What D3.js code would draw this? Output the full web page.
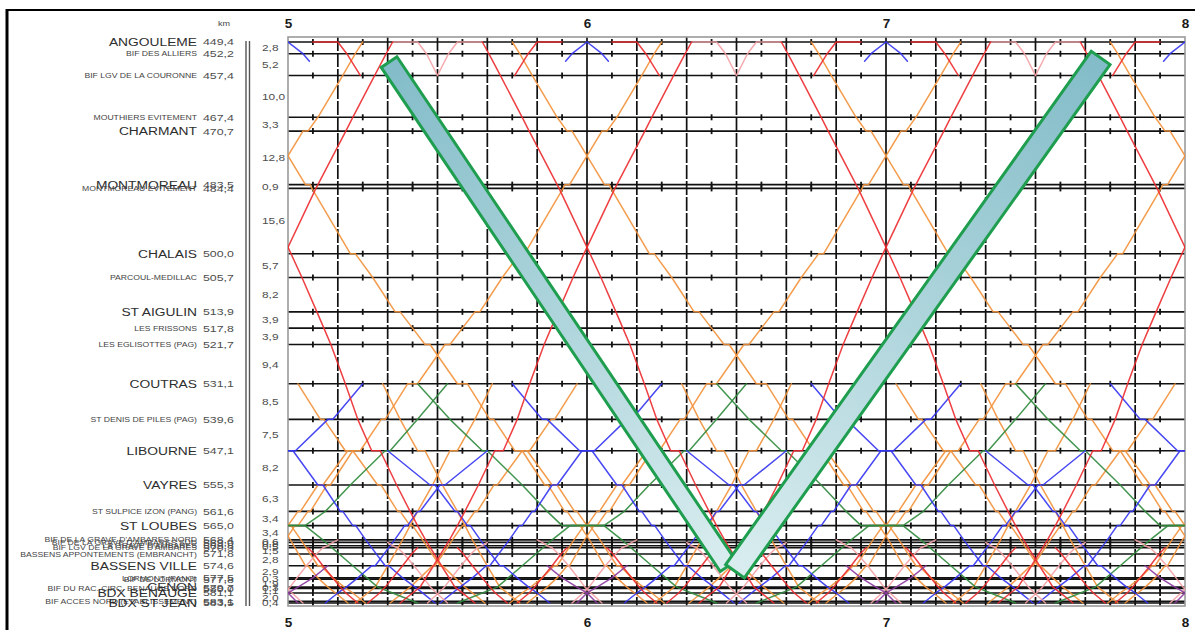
<!DOCTYPE html>
<html>
<head>
<meta charset="utf-8">
<script src="https://cdn.jsdelivr.net/npm/d3@7"></script>
<style>
  html, body { margin: 0; padding: 0; background: #fff; }
  svg { display: block; }
</style>
</head>
<body>
<svg id="chart" width="1195" height="630"></svg>
<script>
// ---------------------------------------------------------------------------
// Line Angoulême – Bordeaux : stations and kilometre points
// ---------------------------------------------------------------------------
const stationNames = [
  "ANGOULEME", "BIF DES ALLIERS", "BIF LGV DE LA COURONNE", "MOUTHIERS EVITEMENT",
  "CHARMANT", "MONTMOREAU", "MONTMOREAU EVITEMENT", "CHALAIS", "PARCOUL-MEDILLAC",
  "ST AIGULIN", "LES FRISSONS", "LES EGLISOTTES (PAG)", "COUTRAS",
  "ST DENIS DE PILES (PAG)", "LIBOURNE", "VAYRES", "ST SULPICE IZON (PANG)",
  "ST LOUBES", "BIF DE LA GRAVE D'AMBARES NORD", "BIF DE LA GRAVE D'AMBARES SUD",
  "LA GRAVE D'AMBARES", "BIF LGV DE LA GRAVE D'AMBARES",
  "BASSENS APPONTEMENTS (EMBRANCHT)", "BASSENS VILLE", "LORMONT (PANG)",
  "BIF DE LORMONT", "CENON", "BIF DU RAC. CIRC. BENAUGE NORD", "BDX BENAUGE",
  "BIF ACCES NORD (ETABLISSEMENT)", "BDX ST JEAN"
];
const stationKm = [
  449.4, 452.2, 457.4, 467.4, 470.7, 483.5, 484.4, 500.0, 505.7, 513.9, 517.8,
  521.7, 531.1, 539.6, 547.1, 555.3, 561.6, 565.0, 568.4, 569.0, 569.8, 570.3,
  571.8, 574.6, 577.5, 577.8, 579.7, 580.0, 581.1, 583.1, 583.5
];
const stationMajor = [
  true, false, false, false, true, true, false, true, false, true, false,
  false, true, false, true, true, false, true, false, false, false, false,
  false, true, false, false, true, false, true, false, true
];

// hours shown on the time axis, and the hours each cadenced path is run
const hourTicks = [5, 6, 7, 8];
const runHours = [3, 4, 5, 6, 7, 8];

// ---------------------------------------------------------------------------
// Hourly cadenced paths : [minute after the hour, km]
// ---------------------------------------------------------------------------
// Intercités Paris – Bordeaux on the classic line
const redSouth = [[39,449.4],[40.3,452.2],[42.6,457.4],[47,467.4],[48.4,470.7],[54,483.5],[54.4,484.4],[60.6,500],[62.8,505.7],[65.8,513.9],[67.2,517.8],[68.6,521.7],[71.5,531.1],[74,539.6],[76.8,547.1],[78.5,547.1],[81.8,555.3],[84.5,561.6],[86,565],[87.6,568.4],[90.8,574.6],[93.5,579.7],[95,581.1],[97.5,583.5]];
const redNorth = [[-37.5,583.5],[-35,581.1],[-33.5,579.7],[-30.8,574.6],[-27.6,568.4],[-26,565],[-24.5,561.6],[-21.8,555.3],[-18.5,547.1],[-16.8,547.1],[-14,539.6],[-11.5,531.1],[-8.6,521.7],[-7.2,517.8],[-5.8,513.9],[-2.8,505.7],[-0.6,500],[5.6,484.4],[6,483.5],[11.6,470.7],[13,467.4],[17.4,457.4],[19.7,452.2],[21,449.4]];

// TGV between Angoulême and the LGV junction at La Couronne
const redLgvSouth = [[5,449.4],[10,449.4],[11.8,452.2],[14.5,457.4]];
const redLgvNorth = [[45.5,457.4],[48.2,452.2],[50,449.4],[55,449.4]];
const pinkLgvSouth = [[21,449.4],[26,449.4],[27.8,452.2],[30,457.4]];
const pinkLgvNorth = [[30,457.4],[32.2,452.2],[34,449.4],[39,449.4]];

// TER Saintes branch, between Angoulême and Bif des Alliers
const blueAngSouth = [[0,449.4],[3,452.2],[4.3,454.0]];
const blueAngNorth = [[-4.3,454.0],[-3,452.2],[0,449.4]];

// TER Angoulême – Bordeaux, all stations
const orangeSouth1 = [[45,449.4],[46.5,452.2],[49,457.4],[54,467.4],[56,470.7],[57,470.7],[63.5,483.5],[64.5,483.5],[64.8,484.4],[72.5,500],[73.5,500],[77,505.7],[81.5,513.9],[82.5,513.9],[85,517.8],[87.5,521.7],[88.5,521.7],[94,531.1],[96,531.1],[100.5,539.6],[101.3,539.6],[105.5,547.1],[107,547.1],[111.5,555.3],[112.2,555.3],[115.5,561.6],[116,561.6],[118,565],[118.6,565],[120.5,568.4],[123.5,574.6],[124,574.6],[126,577.5],[128,579.7],[129.5,581.1],[132,583.5]];
const orangeNorth1 = [[-12,583.5],[-9.5,581.1],[-8,579.7],[-6,577.5],[-4,574.6],[-3.5,574.6],[-0.5,568.4],[1.4,565],[2,565],[4,561.6],[4.5,561.6],[7.8,555.3],[8.5,555.3],[13,547.1],[14.5,547.1],[18.7,539.6],[19.5,539.6],[24,531.1],[26,531.1],[31.5,521.7],[32.5,521.7],[35,517.8],[37.5,513.9],[38.5,513.9],[43,505.7],[46.5,500],[47.5,500],[55.2,484.4],[55.5,483.5],[56.5,483.5],[63,470.7],[64,470.7],[66,467.4],[71,457.4],[73.5,452.2],[75,449.4]];

// TER Périgueux – Bordeaux (joins at Coutras)
const orangeSouth2 = [[2,531.1],[6.5,539.6],[7.2,539.6],[11.5,547.1],[13,547.1],[18,555.3],[18.7,555.3],[22,561.6],[22.5,561.6],[24.5,565],[25,565],[27,568.4],[30.5,574.6],[31,574.6],[33.5,577.5],[35.5,579.7],[37,581.1],[39.5,583.5]];
const orangeNorth2 = [[20.5,583.5],[23,581.1],[24.5,579.7],[26.5,577.5],[29,574.6],[29.5,574.6],[33,568.4],[35,565],[35.5,565],[37.5,561.6],[38,561.6],[41.3,555.3],[42,555.3],[47,547.1],[48.5,547.1],[52.8,539.6],[53.5,539.6],[58,531.1]];
const orangeSouth3 = [[19,531.1],[22.5,539.6],[26,547.1],[27.5,547.1],[31,555.3],[34,561.6],[35.5,565],[37,568.4],[40,574.6],[42.5,579.7],[44,581.1],[46.5,583.5]];
const orangeNorth3 = [[13.5,583.5],[16,581.1],[17.5,579.7],[20,574.6],[23,568.4],[24.5,565],[26,561.6],[29,555.3],[32.5,547.1],[34,547.1],[37.5,539.6],[41,531.1]];

// TER Libourne – Bordeaux
const orangeSouth4 = [[48,547.1],[53,555.3],[54,555.3],[57.5,561.6],[58,561.6],[60,565],[60.6,565],[62.6,568.4],[66,574.6],[66.6,574.6],[69,577.5],[71.3,579.7],[73,581.1],[75.5,583.5]];
const orangeNorth4 = [[-15.5,583.5],[-13,581.1],[-11.3,579.7],[-9,577.5],[-6.6,574.6],[-6,574.6],[-2.6,568.4],[-0.6,565],[0,565],[2,561.6],[2.5,561.6],[6,555.3],[7,555.3],[12,547.1]];

// TER Sarlat / Bergerac – Bordeaux
const blueSouth1 = [[45,531.1],[51,539.6],[52,539.6],[58.5,547.1],[61,547.1],[66,555.3],[67,555.3],[70.5,561.6],[71,561.6],[73,565],[73.6,565],[75.6,568.4],[79.5,574.6],[80.2,574.6],[83,577.5],[85.5,579.7],[87,581.1],[89.5,583.5]];
const blueNorth1 = [[-29.5,583.5],[-27,581.1],[-25.5,579.7],[-23,577.5],[-20.2,574.6],[-19.5,574.6],[-15.6,568.4],[-13.6,565],[-13,565],[-11,561.6],[-10.5,561.6],[-7,555.3],[-6,555.3],[-1,547.1],[1.5,547.1],[8,539.6],[9,539.6],[15,531.1]];
const blueSouth2 = [[20,547.1],[28.5,555.3],[29.5,555.3],[33.5,561.6],[34,561.6],[36,565],[36.6,565],[38.6,568.4],[42.5,574.6],[43.2,574.6],[46,577.5],[48.3,579.7],[50,581.1],[52.5,583.5]];
const blueNorth2 = [[7.5,583.5],[10,581.1],[11.7,579.7],[14,577.5],[16.8,574.6],[17.5,574.6],[21.4,568.4],[23.4,565],[24,565],[26,561.6],[26.5,561.6],[30.5,555.3],[31.5,555.3],[40,547.1]];

// freight paths, held at St Loubes
const greenSouth = [[26,531.1],[32.5,539.6],[39,547.1],[40,547.1],[47,555.3],[52,561.6],[55,565],[63.4,565],[67,568.4],[73,574.6],[78,579.7],[81,581.1],[86,583.5]];
const greenNorth = [[34,583.5],[39,581.1],[42,579.7],[47,574.6],[53,568.4],[56.6,565],[63.4,565],[67.5,561.6],[72.5,555.3],[79.5,547.1],[80.5,547.1],[86,539.6],[92,531.1]];

// TGV from the LGV / Nantes line, joining at La Grave d'Ambarès
const redGraveSouth1 = [[4,570.3],[5.2,571.8],[7,574.6],[9,577.5],[10.5,579.7],[11.6,581.1],[14,583.5]];
const redGraveNorth1 = [[46,583.5],[48.4,581.1],[49.5,579.7],[51,577.5],[53,574.6],[54.8,571.8],[56,570.3]];
const redGraveSouth2 = [[34,570.3],[35.2,571.8],[37,574.6],[39,577.5],[40.5,579.7],[41.6,581.1],[44,583.5]];
const redGraveNorth2 = [[16,583.5],[18.4,581.1],[19.5,579.7],[21,577.5],[23,574.6],[24.8,571.8],[26,570.3]];
const pinkGraveSouth1 = [[20,569.0],[21,569.8],[22,570.3],[23.3,571.8],[25.3,574.6],[27.2,577.5],[28.6,579.7],[29.8,581.1],[32,583.5]];
const pinkGraveNorth1 = [[28,583.5],[30.2,581.1],[31.4,579.7],[32.8,577.5],[34.7,574.6],[36.7,571.8],[38,570.3],[39,569.8],[40,569.0]];
const pinkGraveSouth2 = [[50,568.4],[51,569.0],[52,569.8],[53,570.3],[54.3,571.8],[56.3,574.6],[58.2,577.5],[59.6,579.7],[60.8,581.1],[63,583.5]];
const pinkGraveNorth2 = [[-3,583.5],[-0.8,581.1],[0.4,579.7],[1.8,577.5],[3.7,574.6],[5.7,571.8],[7,570.3],[8,569.8],[9,569.0],[10,568.4]];
const purpleSouth = [[52,574.6],[55,577.5],[58,579.7],[60,581.1],[62,583.5]];
const purpleNorth = [[-2,583.5],[0,581.1],[2,579.7],[5,577.5],[8,574.6]];

// highlighted V : two arrows in (hour, km)
const calloutLeft = [[5.338, 454.2], [6.472, 574.7]];
const calloutRight = [[7.718, 453.2], [6.495, 575.9]];

// ---------------------------------------------------------------------------
const colors = {
  orange: "#f3913a", blue: "#3434f2", green: "#2f8a3c",
  red: "#ec2a2d", pink: "#f4a0a4", purple: "#8b3a9e"
};
const services = [
  { path: orangeSouth1, kind: "orange" }, { path: orangeNorth1, kind: "orange" },
  { path: orangeSouth2, kind: "orange" }, { path: orangeNorth2, kind: "orange" },
  { path: orangeSouth3, kind: "orange" }, { path: orangeNorth3, kind: "orange" },
  { path: orangeSouth4, kind: "orange" }, { path: orangeNorth4, kind: "orange" },
  { path: greenSouth, kind: "green" }, { path: greenNorth, kind: "green" },
  { path: blueSouth1, kind: "blue" }, { path: blueNorth1, kind: "blue" },
  { path: blueSouth2, kind: "blue" }, { path: blueNorth2, kind: "blue" },
  { path: blueAngSouth, kind: "blue" }, { path: blueAngNorth, kind: "blue" },
  { path: pinkLgvSouth, kind: "pink" }, { path: pinkLgvNorth, kind: "pink" },
  { path: pinkGraveSouth1, kind: "pink" }, { path: pinkGraveNorth1, kind: "pink" },
  { path: pinkGraveSouth2, kind: "pink" }, { path: pinkGraveNorth2, kind: "pink" },
  { path: redSouth, kind: "red" }, { path: redNorth, kind: "red" },
  { path: redLgvSouth, kind: "red" }, { path: redLgvNorth, kind: "red" },
  { path: redGraveSouth1, kind: "red" }, { path: redGraveNorth1, kind: "red" },
  { path: redGraveSouth2, kind: "red" }, { path: redGraveNorth2, kind: "red" },
  { path: purpleSouth, kind: "purple" }, { path: purpleNorth, kind: "purple" }
];

const W = 1195, H = 630;
const FONT = "'Liberation Sans', Arial, Helvetica, sans-serif";
const x = d3.scaleLinear().domain([5, 8]).range([288, 1185]);
const y = d3.scaleLinear().domain([449.4, 583.5]).range([42, 603]);
const plot = { left: x(5), right: x(8), top: 37, bottom: 606 };
const fmtKm = d => d3.format(".1f")(d).replace(".", ",");

const svg = d3.select("#chart");
svg.append("rect").attr("width", W).attr("height", H).attr("fill", "#fff");

const defs = svg.append("defs");
defs.append("clipPath").attr("id", "plotClip").append("rect")
  .attr("x", plot.left).attr("y", plot.top)
  .attr("width", plot.right - plot.left).attr("height", plot.bottom - plot.top);

// ---- grid : 10-minute verticals, station lines, 5-minute ticks ----------
const grid = svg.append("g");
const tenMin = d3.range(1, 18).map(i => 5 + i / 6);
grid.selectAll("line.v").data(tenMin).join("line")
  .attr("x1", d => x(d)).attr("x2", d => x(d))
  .attr("y1", plot.top).attr("y2", plot.bottom)
  .attr("stroke", "#111").attr("stroke-width", 1.7)
  .attr("stroke-dasharray", (d, i) => ((i + 1) % 6 === 0) ? null : "14,2");

grid.selectAll("line.s").data(stationKm).join("line")
  .attr("x1", plot.left).attr("x2", plot.right)
  .attr("y1", d => y(d)).attr("y2", d => y(d))
  .attr("stroke", "#111").attr("stroke-width", 1.6);

const fiveMin = d3.range(0, 18).map(i => 5 + (5 + 10 * i) / 60);
stationKm.forEach(k => {
  grid.append("g").selectAll("line").data(fiveMin).join("line")
    .attr("x1", d => x(d)).attr("x2", d => x(d))
    .attr("y1", y(k) - 3).attr("y2", y(k) + 3)
    .attr("stroke", "#111").attr("stroke-width", 1.8);
});

svg.append("rect")
  .attr("x", plot.left).attr("y", plot.top)
  .attr("width", plot.right - plot.left).attr("height", plot.bottom - plot.top)
  .attr("fill", "none").attr("stroke", "#9a9a9a").attr("stroke-width", 1.6);

// ---- train paths --------------------------------------------------------
const lineGen = d3.line()
  .x(d => x(d[0])).y(d => y(d[1]))
  .curve(d3.curveLinear);
const trains = svg.append("g")
  .attr("clip-path", "url(#plotClip)")
  .attr("fill", "none").attr("stroke-width", 1.5)
  .attr("stroke-linejoin", "round").attr("stroke-linecap", "round");
services.forEach(s => {
  runHours.forEach(h => {
    trains.append("path")
      .attr("d", lineGen(s.path.map(([m, k]) => [h + m / 60, k])))
      .attr("stroke", colors[s.kind])
      .attr("stroke-opacity", 0.9);
  });
});

// ---- time axis labels ---------------------------------------------------
const topAxis = svg.append("g").attr("transform", `translate(0,${plot.top})`)
  .call(d3.axisTop(x).tickValues(hourTicks).tickSize(0).tickPadding(9).tickFormat(d3.format("d")));
const bottomAxis = svg.append("g").attr("transform", `translate(0,${plot.bottom})`)
  .call(d3.axisBottom(x).tickValues(hourTicks).tickSize(0).tickPadding(11).tickFormat(d3.format("d")));
[topAxis, bottomAxis].forEach(g => {
  g.select(".domain").remove();
  g.selectAll("text").attr("font-family", FONT).attr("font-size", 13.5)
    .attr("font-weight", "bold").attr("fill", "#1a1a1a");
});

// ---- station column -----------------------------------------------------
const labels = svg.append("g").attr("font-family", FONT);
stationKm.forEach((k, i) => {
  const major = stationMajor[i];
  labels.append("text")
    .attr("transform", `translate(197,${y(k)}) scale(1.2,1)`)
    .attr("text-anchor", "end").attr("dy", "0.36em")
    .attr("font-size", major ? 11.5 : 7.2)
    .attr("fill", major ? "#2e2e2e" : "#444")
    .text(stationNames[i]);
  labels.append("text")
    .attr("transform", `translate(203,${y(k)}) scale(1.3,1)`)
    .attr("dy", "0.36em").attr("font-size", 9.5).attr("fill", "#4d4d4d")
    .text(fmtKm(k));
});
labels.append("text")
  .attr("transform", "translate(218,26) scale(1.2,1)")
  .attr("font-size", 7.5).attr("fill", "#444").text("km");

// distances between consecutive stations
stationKm.slice(1).forEach((k, i) => {
  const prev = stationKm[i];
  labels.append("text")
    .attr("transform", `translate(262,${(y(prev) + y(k)) / 2}) scale(1.25,1)`)
    .attr("dy", "0.36em").attr("font-size", 9.5).attr("fill", "#4d4d4d")
    .text(fmtKm(k - prev));
});

// double rule between the km column and the distances
[246, 249.5].forEach(xx => {
  svg.append("line").attr("x1", xx).attr("x2", xx).attr("y1", 41).attr("y2", plot.bottom)
    .attr("stroke", "#555").attr("stroke-width", 1.4);
});

// ---- V callout ----------------------------------------------------------
function drawArrowBar(pts, width, id) {
  const p0 = [x(pts[0][0]), y(pts[0][1])];
  const p1 = [x(pts[1][0]), y(pts[1][1])];
  const dx = p1[0] - p0[0], dy = p1[1] - p0[1];
  const len = Math.hypot(dx, dy);
  const nx = -dy / len * width / 2, ny = dx / len * width / 2;
  const grad = defs.append("linearGradient").attr("id", id)
    .attr("gradientUnits", "userSpaceOnUse")
    .attr("x1", p0[0]).attr("y1", p0[1]).attr("x2", p1[0]).attr("y2", p1[1]);
  grad.append("stop").attr("offset", 0).attr("stop-color", "#82bcc8");
  grad.append("stop").attr("offset", 1).attr("stop-color", "#d9edef");
  const poly = [
    [p0[0] + nx, p0[1] + ny], [p1[0] + nx, p1[1] + ny],
    [p1[0] - nx, p1[1] - ny], [p0[0] - nx, p0[1] - ny]
  ];
  svg.append("polygon")
    .attr("points", poly.map(p => p.join(",")).join(" "))
    .attr("fill", `url(#${id})`)
    .attr("stroke", "#1e9e4e").attr("stroke-width", 3)
    .attr("stroke-linejoin", "miter");
}
drawArrowBar(calloutLeft, 19, "barGradLeft");
drawArrowBar(calloutRight, 23, "barGradRight");

// ---- outer frame --------------------------------------------------------
svg.append("rect").attr("x", 0).attr("y", 0).attr("width", 6).attr("height", H).attr("fill", "#fff");
svg.append("line").attr("x1", 7).attr("x2", 7).attr("y1", 9).attr("y2", H)
  .attr("stroke", "#000").attr("stroke-width", 3);
svg.append("line").attr("x1", 6).attr("x2", W).attr("y1", 10).attr("y2", 10)
  .attr("stroke", "#000").attr("stroke-width", 1.8);
</script>
</body>
</html>
